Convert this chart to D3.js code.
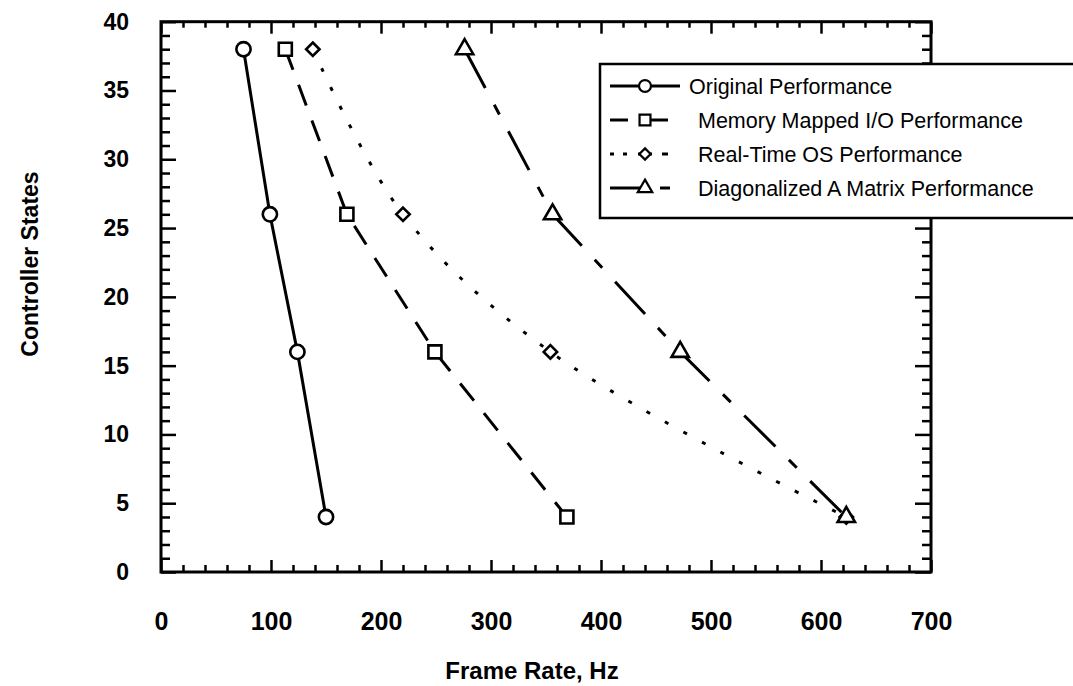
<!DOCTYPE html>
<html>
<head>
<meta charset="utf-8">
<script src="https://cdn.jsdelivr.net/npm/d3@7"></script>
<style>
  body { margin: 0; background: #fff; }
  svg { font-family: "Liberation Sans", Arial, Helvetica, sans-serif; }
</style>
</head>
<body>
<div class="container"></div>
<script>
const width = 1073, height = 686;

// controller states (y) and frame rates (x)
const states = [38, 26, 16, 4];
const original = [75, 99, 124, 150];
const memoryMapped = [113, 169, 249, 369];
const realTimeOS = [138, 220, 354, 623];
const diagonalized = [276, 356, 472, 623];

const seriesNames = [
  "Original Performance",
  "Memory Mapped I/O Performance",
  "Real-Time OS Performance",
  "Diagonalized A Matrix Performance"
];

const xTicks = [0, 100, 200, 300, 400, 500, 600, 700];
const yTicks = [0, 5, 10, 15, 20, 25, 30, 35, 40];

const svg = d3.select(".container")
  .append("svg")
  .attr("width", width)
  .attr("height", height);

const x = d3.scaleLinear().domain([0, 700]).range([161, 931]);
const y = d3.scaleLinear().domain([0, 40]).range([572, 21.7]);

// minor ticks every 20 Hz / every state
const xMinor = d3.range(0, 701, 20).filter(v => v % 100 !== 0);
const yMinor = d3.range(0, 41, 1).filter(v => v % 5 !== 0);

function styleAxis(g) {
  g.select(".domain").remove();
  g.selectAll(".tick line").attr("stroke", "#000").attr("stroke-width", 2.5);
  g.selectAll("text").attr("fill", "#000").attr("font-weight", "bold");
}

// bottom
svg.append("g").attr("transform", `translate(0,${y(0)})`)
  .call(d3.axisBottom(x).tickValues(xMinor).tickSize(-7).tickFormat(""))
  .call(styleAxis);
svg.append("g").attr("transform", `translate(0,${y(0)})`)
  .call(d3.axisBottom(x).tickValues(xTicks).tickSize(-12).tickPadding(40))
  .call(styleAxis)
  .selectAll("text").attr("font-size", 25);
// top
svg.append("g").attr("transform", `translate(0,${y(40)})`)
  .call(d3.axisTop(x).tickValues(xMinor).tickSize(-6).tickFormat(""))
  .call(styleAxis);
svg.append("g").attr("transform", `translate(0,${y(40)})`)
  .call(d3.axisTop(x).tickValues(xTicks).tickSize(-12).tickFormat(""))
  .call(styleAxis);
// left
svg.append("g").attr("transform", `translate(${x(0)},0)`)
  .call(d3.axisLeft(y).tickValues(yMinor).tickSize(-9).tickFormat(""))
  .call(styleAxis);
svg.append("g").attr("transform", `translate(${x(0)},0)`)
  .call(d3.axisLeft(y).tickValues(yTicks).tickSize(-15).tickPadding(32))
  .call(styleAxis)
  .selectAll("text").attr("font-size", 23);
// right
svg.append("g").attr("transform", `translate(${x(700)},0)`)
  .call(d3.axisRight(y).tickValues(yMinor).tickSize(-9).tickFormat(""))
  .call(styleAxis);
svg.append("g").attr("transform", `translate(${x(700)},0)`)
  .call(d3.axisRight(y).tickValues(yTicks).tickSize(-16).tickFormat(""))
  .call(styleAxis);

// frame
svg.append("rect")
  .attr("x", x(0)).attr("y", y(40))
  .attr("width", x(700) - x(0)).attr("height", y(0) - y(40))
  .attr("fill", "none").attr("stroke", "#000").attr("stroke-width", 3);

// axis titles
svg.append("text")
  .attr("transform", "translate(38,264) rotate(-90)")
  .attr("text-anchor", "middle")
  .attr("font-size", 23).attr("font-weight", "bold")
  .text("Controller States");
svg.append("text")
  .attr("x", 532).attr("y", 679)
  .attr("text-anchor", "middle")
  .attr("font-size", 24).attr("font-weight", "bold")
  .text("Frame Rate, Hz");

const diamond = {
  draw(ctx, size) {
    const r = Math.sqrt(size / 2);
    ctx.moveTo(0, -r); ctx.lineTo(r, 0); ctx.lineTo(0, r); ctx.lineTo(-r, 0); ctx.closePath();
  }
};

const series = [
  { name: seriesNames[0], xs: original, dash: null, legendDash: null, lx2: 680,
    curve: d3.curveLinear, symbol: d3.symbolCircle, size: 160 },
  { name: seriesNames[1], xs: memoryMapped, dash: "22,16", legendDash: "18,12,28", lx2: 668,
    curve: d3.curveLinear, symbol: d3.symbolSquare, size: 170 },
  { name: seriesNames[2], xs: realTimeOS, dash: "4,17", legendDash: "4,9,4,11,14,10,6", lx2: 670,
    curve: d3.curveCatmullRom.alpha(0.5), symbol: diamond, size: 90 },
  { name: seriesNames[3], xs: diagonalized, dash: "44,19,11,19", legendDash: "35,15,10,10", lx2: 670,
    curve: d3.curveLinear, symbol: d3.symbolTriangle, size: 130 }
];

const plot = svg.append("g");

series.forEach(s => {
  const pts = s.xs.map((v, i) => [v, states[i]]);
  plot.append("path")
    .attr("d", d3.line().x(d => x(d[0])).y(d => y(d[1])).curve(s.curve)(pts))
    .attr("fill", "none")
    .attr("stroke", "#000")
    .attr("stroke-width", 3)
    .attr("stroke-dasharray", s.dash);
});

series.forEach(s => {
  const pts = s.xs.map((v, i) => [v, states[i]]);
  plot.selectAll(null)
    .data(pts)
    .join("path")
    .attr("transform", d => `translate(${x(d[0])},${y(d[1])})`)
    .attr("d", d3.symbol().type(s.symbol).size(s.size))
    .attr("fill", "#fff")
    .attr("stroke", "#000")
    .attr("stroke-width", 2.6);
});

// legend
const legend = svg.append("g");
legend.append("rect")
  .attr("x", 600).attr("y", 64)
  .attr("width", 490).attr("height", 154)
  .attr("fill", "#fff").attr("stroke", "#000").attr("stroke-width", 2.5);

series.forEach((s, i) => {
  const ly = 86 + i * 34;
  const row = legend.append("g").attr("transform", `translate(0,${ly})`);
  row.append("line")
    .attr("x1", 610).attr("x2", s.lx2)
    .attr("stroke", "#000").attr("stroke-width", 3)
    .attr("stroke-dasharray", s.legendDash);
  row.append("path")
    .attr("transform", "translate(645,0)")
    .attr("d", d3.symbol().type(s.symbol).size(s.size * 0.7))
    .attr("fill", "#fff").attr("stroke", "#000").attr("stroke-width", 2.2);
  row.append("text")
    .attr("x", i === 0 ? 689 : 698).attr("dy", "0.35em")
    .attr("font-size", 21.5)
    .text(s.name);
});
</script>
</body>
</html>
